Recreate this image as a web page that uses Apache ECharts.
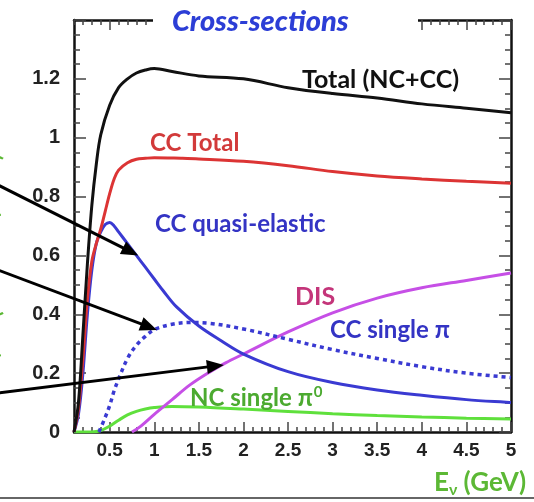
<!DOCTYPE html>
<html>
<head>
<meta charset="utf-8">
<script src="https://cdn.jsdelivr.net/npm/echarts@6/dist/echarts.min.js"></script>
<style>
  html, body { margin: 0; padding: 0; background: #fff; }
  #chart { width: 534px; height: 502px; }
</style>
</head>
<body>
<div id="chart"></div>
<script>
// Neutrino energy (GeV) and cross-section per energy for each channel
const totalE   = [0.1, 0.15, 0.2, 0.25, 0.3, 0.35, 0.4, 0.5, 0.6, 0.7, 0.8, 0.9, 1.0, 1.2, 1.5, 2.0, 2.5, 3.0, 3.5, 4.0, 4.5, 5.0];
const totalXs  = [0, 0.10, 0.33, 0.57, 0.77, 0.91, 1.01, 1.11, 1.17, 1.20, 1.22, 1.23, 1.235, 1.225, 1.21, 1.20, 1.17, 1.15, 1.135, 1.115, 1.10, 1.085];

const ccE      = [0.1, 0.15, 0.2, 0.25, 0.3, 0.35, 0.4, 0.45, 0.5, 0.55, 0.6, 0.7, 0.8, 0.9, 1.0, 1.3, 1.5, 2.0, 2.5, 3.0, 3.5, 4.0, 4.5, 5.0];
const ccXs     = [0, 0.08, 0.25, 0.45, 0.58, 0.64, 0.69, 0.75, 0.81, 0.86, 0.89, 0.915, 0.927, 0.93, 0.932, 0.93, 0.928, 0.92, 0.905, 0.885, 0.87, 0.86, 0.852, 0.845];

const qeE      = [0.1, 0.15, 0.2, 0.25, 0.3, 0.35, 0.4, 0.45, 0.5, 0.55, 0.6, 0.7, 0.8, 0.9, 1.0, 1.1, 1.25, 1.5, 1.75, 2.0, 2.5, 3.0, 3.5, 4.0, 4.5, 5.0];
const qeXs     = [0, 0.06, 0.2, 0.4, 0.55, 0.64, 0.68, 0.705, 0.712, 0.70, 0.68, 0.64, 0.60, 0.56, 0.52, 0.48, 0.425, 0.36, 0.31, 0.265, 0.205, 0.168, 0.143, 0.125, 0.11, 0.10];

const piE      = [0.38, 0.45, 0.5, 0.55, 0.6, 0.7, 0.8, 0.9, 1.0, 1.2, 1.4, 1.6, 2.0, 2.5, 3.0, 3.5, 4.0, 4.5, 5.0];
const piXs     = [0, 0.05, 0.09, 0.14, 0.18, 0.25, 0.295, 0.325, 0.348, 0.366, 0.372, 0.37, 0.35, 0.315, 0.28, 0.25, 0.222, 0.20, 0.185];

const disE     = [0.75, 0.85, 1.0, 1.2, 1.4, 1.6, 1.8, 2.0, 2.5, 3.0, 3.5, 4.0, 4.5, 5.0];
const disXs    = [0, 0.02, 0.06, 0.11, 0.16, 0.20, 0.235, 0.265, 0.34, 0.405, 0.455, 0.49, 0.515, 0.54];

const ncpiE    = [0.1, 0.3, 0.4, 0.5, 0.6, 0.7, 0.8, 0.9, 1.0, 1.2, 1.5, 2.0, 2.5, 3.0, 3.5, 4.0, 4.5, 5.0];
const ncpiXs   = [0, 0, 0.005, 0.02, 0.04, 0.058, 0.07, 0.078, 0.083, 0.087, 0.085, 0.078, 0.07, 0.062, 0.056, 0.051, 0.047, 0.044];

// Axis tick labels
const xMajorTicks = [0.5, 1, 1.5, 2, 2.5, 3, 3.5, 4, 4.5, 5];

// Points on the curves that the pointer arrows touch [E, sigma]
const arrowTargets = [[0.82, 0.60], [1.03, 0.347], [1.78, 0.228]];

const pairs = (xs, ys) => xs.map((x, i) => [x, ys[i]]);

const FONT = 'Lato, "Open Sans", sans-serif';
const TICK_FONT = '"Liberation Sans", Arial, sans-serif';

const chart = echarts.init(document.getElementById('chart'), null, { renderer: 'canvas' });

const lineSeries = (name, data, color, extra) => Object.assign({
  name, type: 'line', data,
  showSymbol: false, symbol: 'none',
  smooth: 0.35,
  lineStyle: { color, width: 3 },
  animation: false
}, extra || {});

const minorX = (position) => ({
  type: 'value', position, min: 0.1, max: 5, interval: 0.1,
  axisLine: { show: true, lineStyle: { color: '#111', width: 2.5 } },
  axisTick: { show: true, inside: true, length: 5, lineStyle: { color: '#444', width: 1.5 } },
  axisLabel: { show: false }, splitLine: { show: false }
});
const majorX = (position, labels) => ({
  type: 'value', position, min: 0.1, max: 5,
  axisLine: { show: false },
  axisTick: { show: true, inside: true, length: 10, customValues: xMajorTicks, lineStyle: { color: '#444', width: 1.5 } },
  axisLabel: labels ? {
    show: true, customValues: xMajorTicks, margin: 9,
    fontFamily: TICK_FONT, fontWeight: 'bold', fontSize: 19, color: '#222'
  } : { show: false },
  splitLine: { show: false }
});
const yAx = (position, labels) => ({
  type: 'value', position, min: 0, max: 1.4, interval: 0.2,
  axisLine: { show: true, lineStyle: { color: '#111', width: 2.5 } },
  axisTick: { show: true, inside: true, length: 12, lineStyle: { color: '#444', width: 1.5 } },
  minorTick: { show: true, splitNumber: 4, length: 6, lineStyle: { color: '#444', width: 1.5 } },
  axisLabel: labels ? {
    show: true, margin: 14,
    fontFamily: TICK_FONT, fontWeight: 'bold', fontSize: 20, color: '#222',
    formatter: v => (v > 1.3 ? '' : String(+v.toFixed(1)))
  } : { show: false },
  splitLine: { show: false }
});

chart.setOption({
  backgroundColor: '#fff',
  animation: false,
  grid: { left: 74, right: 23, top: 20, bottom: 70, containLabel: false },
  xAxis: [minorX('bottom'), majorX('bottom', true), minorX('top'), majorX('top', false)],
  yAxis: [yAx('left', true), yAx('right', false)],
  series: [
    lineSeries('NC single pi0', pairs(ncpiE, ncpiXs), '#5fe03c'),
    lineSeries('DIS', pairs(disE, disXs), '#c64fe6'),
    lineSeries('CC single pi', pairs(piE, piXs), '#3a3ad2', { lineStyle: { color: '#3a3ad2', width: 3.5, type: [4, 4] } }),
    lineSeries('CC quasi-elastic', pairs(qeE, qeXs), '#3a3ad2'),
    lineSeries('CC Total', pairs(ccE, ccXs), '#dc3434'),
    lineSeries('Total (NC+CC)', pairs(totalE, totalXs), '#111111')
  ]
});

// Annotation layer: curve labels, title, axis titles, pointer arrows
const arrowStarts = [[-2, 185], [-2, 270], [-2, 393]];
const graphics = [];

arrowTargets.forEach((t, i) => {
  const [tx, ty] = chart.convertToPixel({ gridIndex: 0 }, t);
  const [sx, sy] = arrowStarts[i];
  const dx = tx - sx, dy = ty - sy, len = Math.hypot(dx, dy);
  const ux = dx / len, uy = dy / len, nx = -uy, ny = ux;
  const L = 17, W = 7;
  graphics.push({
    type: 'line', z: 100,
    shape: { x1: sx, y1: sy, x2: tx - ux * L * 0.7, y2: ty - uy * L * 0.7 },
    style: { stroke: '#000', lineWidth: 3 }
  });
  graphics.push({
    type: 'polygon', z: 100,
    shape: { points: [[tx, ty], [tx - ux * L + nx * W, ty - uy * L + ny * W], [tx - ux * L - nx * W, ty - uy * L - ny * W]] },
    style: { fill: '#000' }
  });
});

const label = (text, x, y, color, size, extra) => ({
  type: 'text', x, y, z: 110,
  style: Object.assign({
    text, fill: color, font: `bold ${size}px ${FONT}`,
    textAlign: 'left', textVerticalAlign: 'middle'
  }, extra || {})
});

graphics.push(
  { type: 'rect', z: 105, shape: { x: 153, y: 6, width: 265, height: 28 }, style: { fill: '#fff' } },
  label('Cross-sections', 172, 22, '#2c3ed6', 29, { font: `italic 900 29px ${FONT}` }),
  label('Total (NC+CC)', 302, 80, '#111', 25),
  label('CC Total', 150, 143, '#d23a3a', 24),
  label('CC quasi-elastic', 155, 224, '#3434c4', 24),
  label('DIS', 295, 297, '#c4357a', 25),
  label('CC single π', 330, 330, '#3434c4', 24),
  {
    type: 'text', x: 190, y: 398, z: 110,
    style: {
      text: '{a|NC single π}{s|0}', textAlign: 'left', textVerticalAlign: 'middle',
      rich: {
        a: { fill: '#4caa30', font: `bold 24px ${FONT}` },
        s: { fill: '#4caa30', font: `bold 15px ${FONT}`, padding: [0, 0, 12, 1] }
      }
    }
  },
  {
    type: 'text', x: 434, y: 483, z: 110,
    style: {
      text: '{a|E}{s|ν}{a| (GeV)}', textAlign: 'left', textVerticalAlign: 'middle',
      rich: {
        a: { fill: '#5cb835', font: `bold 26px ${FONT}` },
        s: { fill: '#5cb835', font: `bold 16px ${FONT}`, padding: [14, 0, 0, 0] }
      }
    }
  },
  {
    type: 'text', x: -7, y: 262, z: 110, rotation: Math.PI / 2,
    style: {
      text: 'σ/Eν (10⁻³⁸ cm² / GeV)', fill: '#5cb835', font: `bold 22px ${FONT}`,
      textAlign: 'center', textVerticalAlign: 'middle'
    }
  },
  { type: 'line', z: 110, shape: { x1: 0, y1: 498, x2: 534, y2: 498 }, style: { stroke: '#666', lineWidth: 2 } }
);

chart.setOption({ graphic: graphics });
</script>
</body>
</html>
